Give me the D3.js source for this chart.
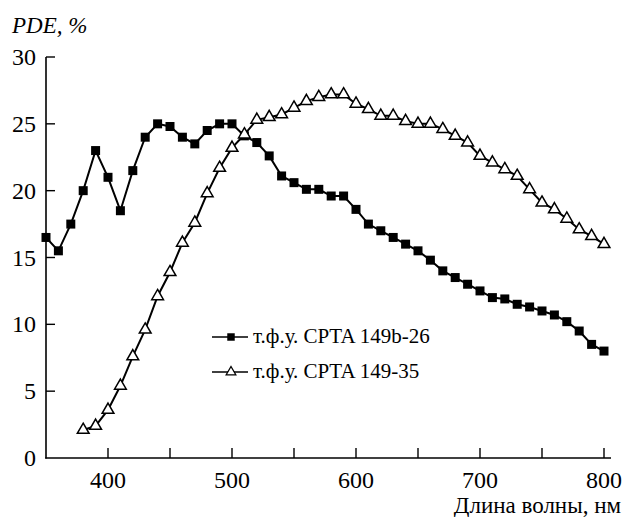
<!DOCTYPE html>
<html><head><meta charset="utf-8">
<script src="https://cdn.jsdelivr.net/npm/d3@7"></script>
<style>
body{margin:0;background:#fff}
svg text, svg text * { font-family: "Liberation Serif", "Times New Roman", Tinos, FreeSerif !important; }
</style>
</head><body>
<script>
const wavelengths = d3.range(350, 801, 10);
const wavelengthsB = d3.range(380, 801, 10);
const seriesA = [16.5,15.5,17.5,20,23,21,18.5,21.5,24,25,24.8,24,23.5,24.5,25,25,24.1,23.6,22.6,21.1,20.6,20.1,20.1,19.6,19.6,18.6,17.5,17.0,16.5,16.0,15.5,14.8,14.0,13.5,13.0,12.5,12.0,11.9,11.5,11.3,11.0,10.7,10.2,9.5,8.5,8.0];
const seriesB = [2.1,2.4,3.6,5.4,7.6,9.6,12.1,13.9,16.1,17.6,19.8,21.7,23.2,24.2,25.3,25.5,25.7,26.2,26.7,27.0,27.2,27.2,26.5,26.1,25.6,25.6,25.2,25.0,25.0,24.6,24.1,23.6,22.6,22.1,21.6,21.1,20.1,19.1,18.6,17.9,17.1,16.6,16.0];
const xTicks = [400,500,600,700,800];
const xMinorTicks = [400,450,500,550,600,650,700,750,800];
const yTicks = [0,5,10,15,20,25,30];
const legendLabels = ["т.ф.у. CPTA 149b-26", "т.ф.у. CPTA 149-35"];
const yTitle = "PDE, %";
const xTitle = "Длина волны, нм";

const W = 626, H = 517;
const svg = d3.select("body").append("svg").attr("width", W).attr("height", H);
const x = d3.scaleLinear().domain([350, 800]).range([46, 604]);
const y = d3.scaleLinear().domain([0, 30]).range([458, 57]);

svg.append("line").attr("x1", 46).attr("x2", 46).attr("y1", y(30)).attr("y2", 458.5)
  .attr("stroke", "#000").attr("stroke-width", 1.6);
svg.append("line").attr("x1", 45.2).attr("x2", 611).attr("y1", 458).attr("y2", 458)
  .attr("stroke", "#000").attr("stroke-width", 1.6);

svg.selectAll(".yt").data(yTicks.filter(d => d > 0)).enter().append("line")
  .attr("x1", 46).attr("x2", 55).attr("y1", d => y(d)).attr("y2", d => y(d))
  .attr("stroke", "#000").attr("stroke-width", 1.4);
svg.selectAll(".yl").data(yTicks).enter().append("text")
  .attr("x", 36).attr("y", d => y(d) + 8).attr("text-anchor", "end")
  .attr("font-size", 24).text(d => d);

svg.selectAll(".xt").data(xMinorTicks).enter().append("line")
  .attr("x1", d => x(d)).attr("x2", d => x(d)).attr("y1", 458).attr("y2", 448)
  .attr("stroke", "#000").attr("stroke-width", 1.4);
svg.selectAll(".xl").data(xTicks).enter().append("text")
  .attr("x", d => x(d)).attr("y", 488).attr("text-anchor", "middle")
  .attr("font-size", 24).text(d => d);

svg.append("text").attr("x", 12).attr("y", 33)
  .attr("font-style", "italic").attr("font-size", 23).text(yTitle);
svg.append("text").attr("x", 621).attr("y", 513).attr("text-anchor", "end")
  .attr("font-size", 23).text(xTitle);

const line = d3.line().x(d => x(d[0])).y(d => y(d[1]));
const dataA = wavelengths.map((w, i) => [w, seriesA[i]]);
const dataB = wavelengthsB.map((w, i) => [w, seriesB[i]]);

svg.append("path").datum(dataB).attr("d", line).attr("fill", "none")
  .attr("stroke", "#000").attr("stroke-width", 2);
svg.append("path").datum(dataA).attr("d", line).attr("fill", "none")
  .attr("stroke", "#000").attr("stroke-width", 2);

const sq = d3.symbol().type(d3.symbolSquare).size(81);
const tri = d3.symbol().type(d3.symbolTriangle).size(60);
svg.selectAll(".ma").data(dataA).enter().append("path")
  .attr("d", sq).attr("transform", d => `translate(${x(d[0])},${y(d[1])})`)
  .attr("fill", "#000");
svg.selectAll(".mb").data(dataB).enter().append("path")
  .attr("d", tri).attr("transform", d => `translate(${x(d[0])},${y(d[1])})`)
  .attr("fill", "#fff").attr("stroke", "#000").attr("stroke-width", 1.5);

const leg = [{y: 337, m: "sq"}, {y: 372, m: "tri"}];
leg.forEach((l, i) => {
  svg.append("line").attr("x1", 212).attr("x2", 248).attr("y1", l.y).attr("y2", l.y)
    .attr("stroke", "#000").attr("stroke-width", 1.6);
  if (l.m === "sq") {
    svg.append("path").attr("d", d3.symbol().type(d3.symbolSquare).size(56)())
      .attr("transform", `translate(231,${l.y})`).attr("fill", "#000");
  } else {
    svg.append("path").attr("d", d3.symbol().type(d3.symbolTriangle).size(40)())
      .attr("transform", `translate(231,${l.y})`).attr("fill", "#fff")
      .attr("stroke", "#000").attr("stroke-width", 1.3);
  }
  svg.append("text").attr("x", 253).attr("y", l.y + 6)
    .attr("font-size", 21).text(legendLabels[i]);
});
</script>
</body></html>
